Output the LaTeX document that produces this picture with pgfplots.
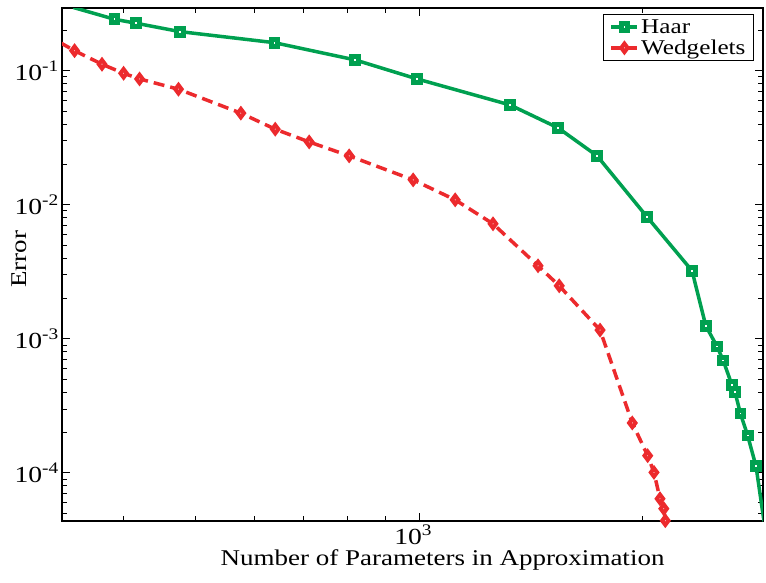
\documentclass[border=0pt]{standalone}
\usepackage{fontspec}
\setmainfont{Liberation Serif}[FakeStretch=1.2]
\usepackage{pgfplots}
\pgfplotsset{compat=1.18}
\definecolor{hgreen}{RGB}{0,160,80}
\definecolor{wred}{RGB}{236,42,45}
\begin{document}
\begin{tikzpicture}
\begin{loglogaxis}[
  name=ax,
  scale only axis, width=701pt, height=513pt,
  xmin=331, xmax=2900, ymin=4.385e-5, ymax=0.2931,
  xtick={1000}, xticklabels={10\textsuperscript{3}},
  minor xtick={400,500,600,700,800,900,2000},
  ytick={1e-4,1e-3,1e-2,1e-1},
  yticklabels={10\textsuperscript{-4},10\textsuperscript{-3},10\textsuperscript{-2},10\textsuperscript{-1}},
  minor ytick={5e-5,6e-5,7e-5,8e-5,9e-5,2e-4,3e-4,4e-4,5e-4,6e-4,7e-4,8e-4,9e-4,2e-3,3e-3,4e-3,5e-3,6e-3,7e-3,8e-3,9e-3,2e-2,3e-2,4e-2,5e-2,6e-2,7e-2,8e-2,9e-2,0.2},
  tick align=inside, major tick length=8pt, minor tick length=5pt,
  axis line style={line width=1.3pt}, every tick/.style={black,line width=1pt},
  tick label style={font=\fontsize{23}{26}\selectfont},
  yticklabel style={inner xsep=3pt},
  xticklabel style={xshift=-6pt},
  xlabel={Number of Parameters in Approximation},
  ylabel={Error},
  label style={font=\fontsize{22.5}{26}\selectfont},
  xlabel style={at={(axis description cs:0.5,0)}, anchor=base, inner sep=0pt, yshift=-44pt, xshift=30pt},
  ylabel style={at={(axis description cs:-0.05,0.51)}, anchor=base, inner sep=0pt},
  legend style={at={(rel axis cs:0.987,0.988)}, anchor=north east, draw=black, line width=0.8pt,
    font=\fontsize{21}{24}\selectfont, inner xsep=6pt, inner ysep=3pt, row sep=1pt},
  legend cell align=left,
  legend image code/.code={\draw[mark repeat=2,mark phase=2,#1,solid] plot coordinates {(0pt,0pt) (13pt,0pt) (26pt,0pt)};},
  clip=true,
]
\addplot[hgreen, line width=3.5pt, mark=square*, mark size=3.4pt,
  mark options={solid, fill=white, line width=5pt}] coordinates {
(342.7,0.296) (389.5,0.2415) (416.5,0.2255) (477.2,0.1953) (639,0.1616)
(820.3,0.1202) (993.8,0.0867) (1325,0.0555) (1538,0.0374) (1735,0.02315)
(2025,0.00812) (2328,0.003218) (2429,0.001252) (2515,0.000878) (2564,0.00069)
(2633,0.000455) (2659,0.000401) (2704,0.000278) (2765,0.0001907) (2838,0.0001120)
(2909,4.36e-5)
};
\addlegendentry{Haar}
\addplot[wred, line width=3.5pt, dash pattern=on 11pt off 6pt, mark=diamond*, mark size=4.2pt,
  mark options={solid, fill=white, line width=4pt}] coordinates {
(314.4,0.1864) (344.1,0.1409) (374.6,0.1116) (400.5,0.0956) (420.8,0.0867) (474.7,0.0727)
(575.8,0.0482) (640.5,0.0366) (711.5,0.0294) (805.2,0.02315) (981.6,0.01533)
(1118,0.01088) (1257,0.00721) (1445,0.003505) (1543,0.002487) (1751,0.001163)
(1935,0.000236) (2029,0.0001346) (2069,0.000101) (2108,6.43e-5) (2133,5.42e-5)
(2143,4.41e-5)
};
\addlegendentry{Wedgelets}
\end{loglogaxis}
\path[use as bounding box] ([xshift=-62pt,yshift=-61pt]ax.south west) rectangle ([xshift=3pt,yshift=8pt]ax.north east);
\end{tikzpicture}
\end{document}
